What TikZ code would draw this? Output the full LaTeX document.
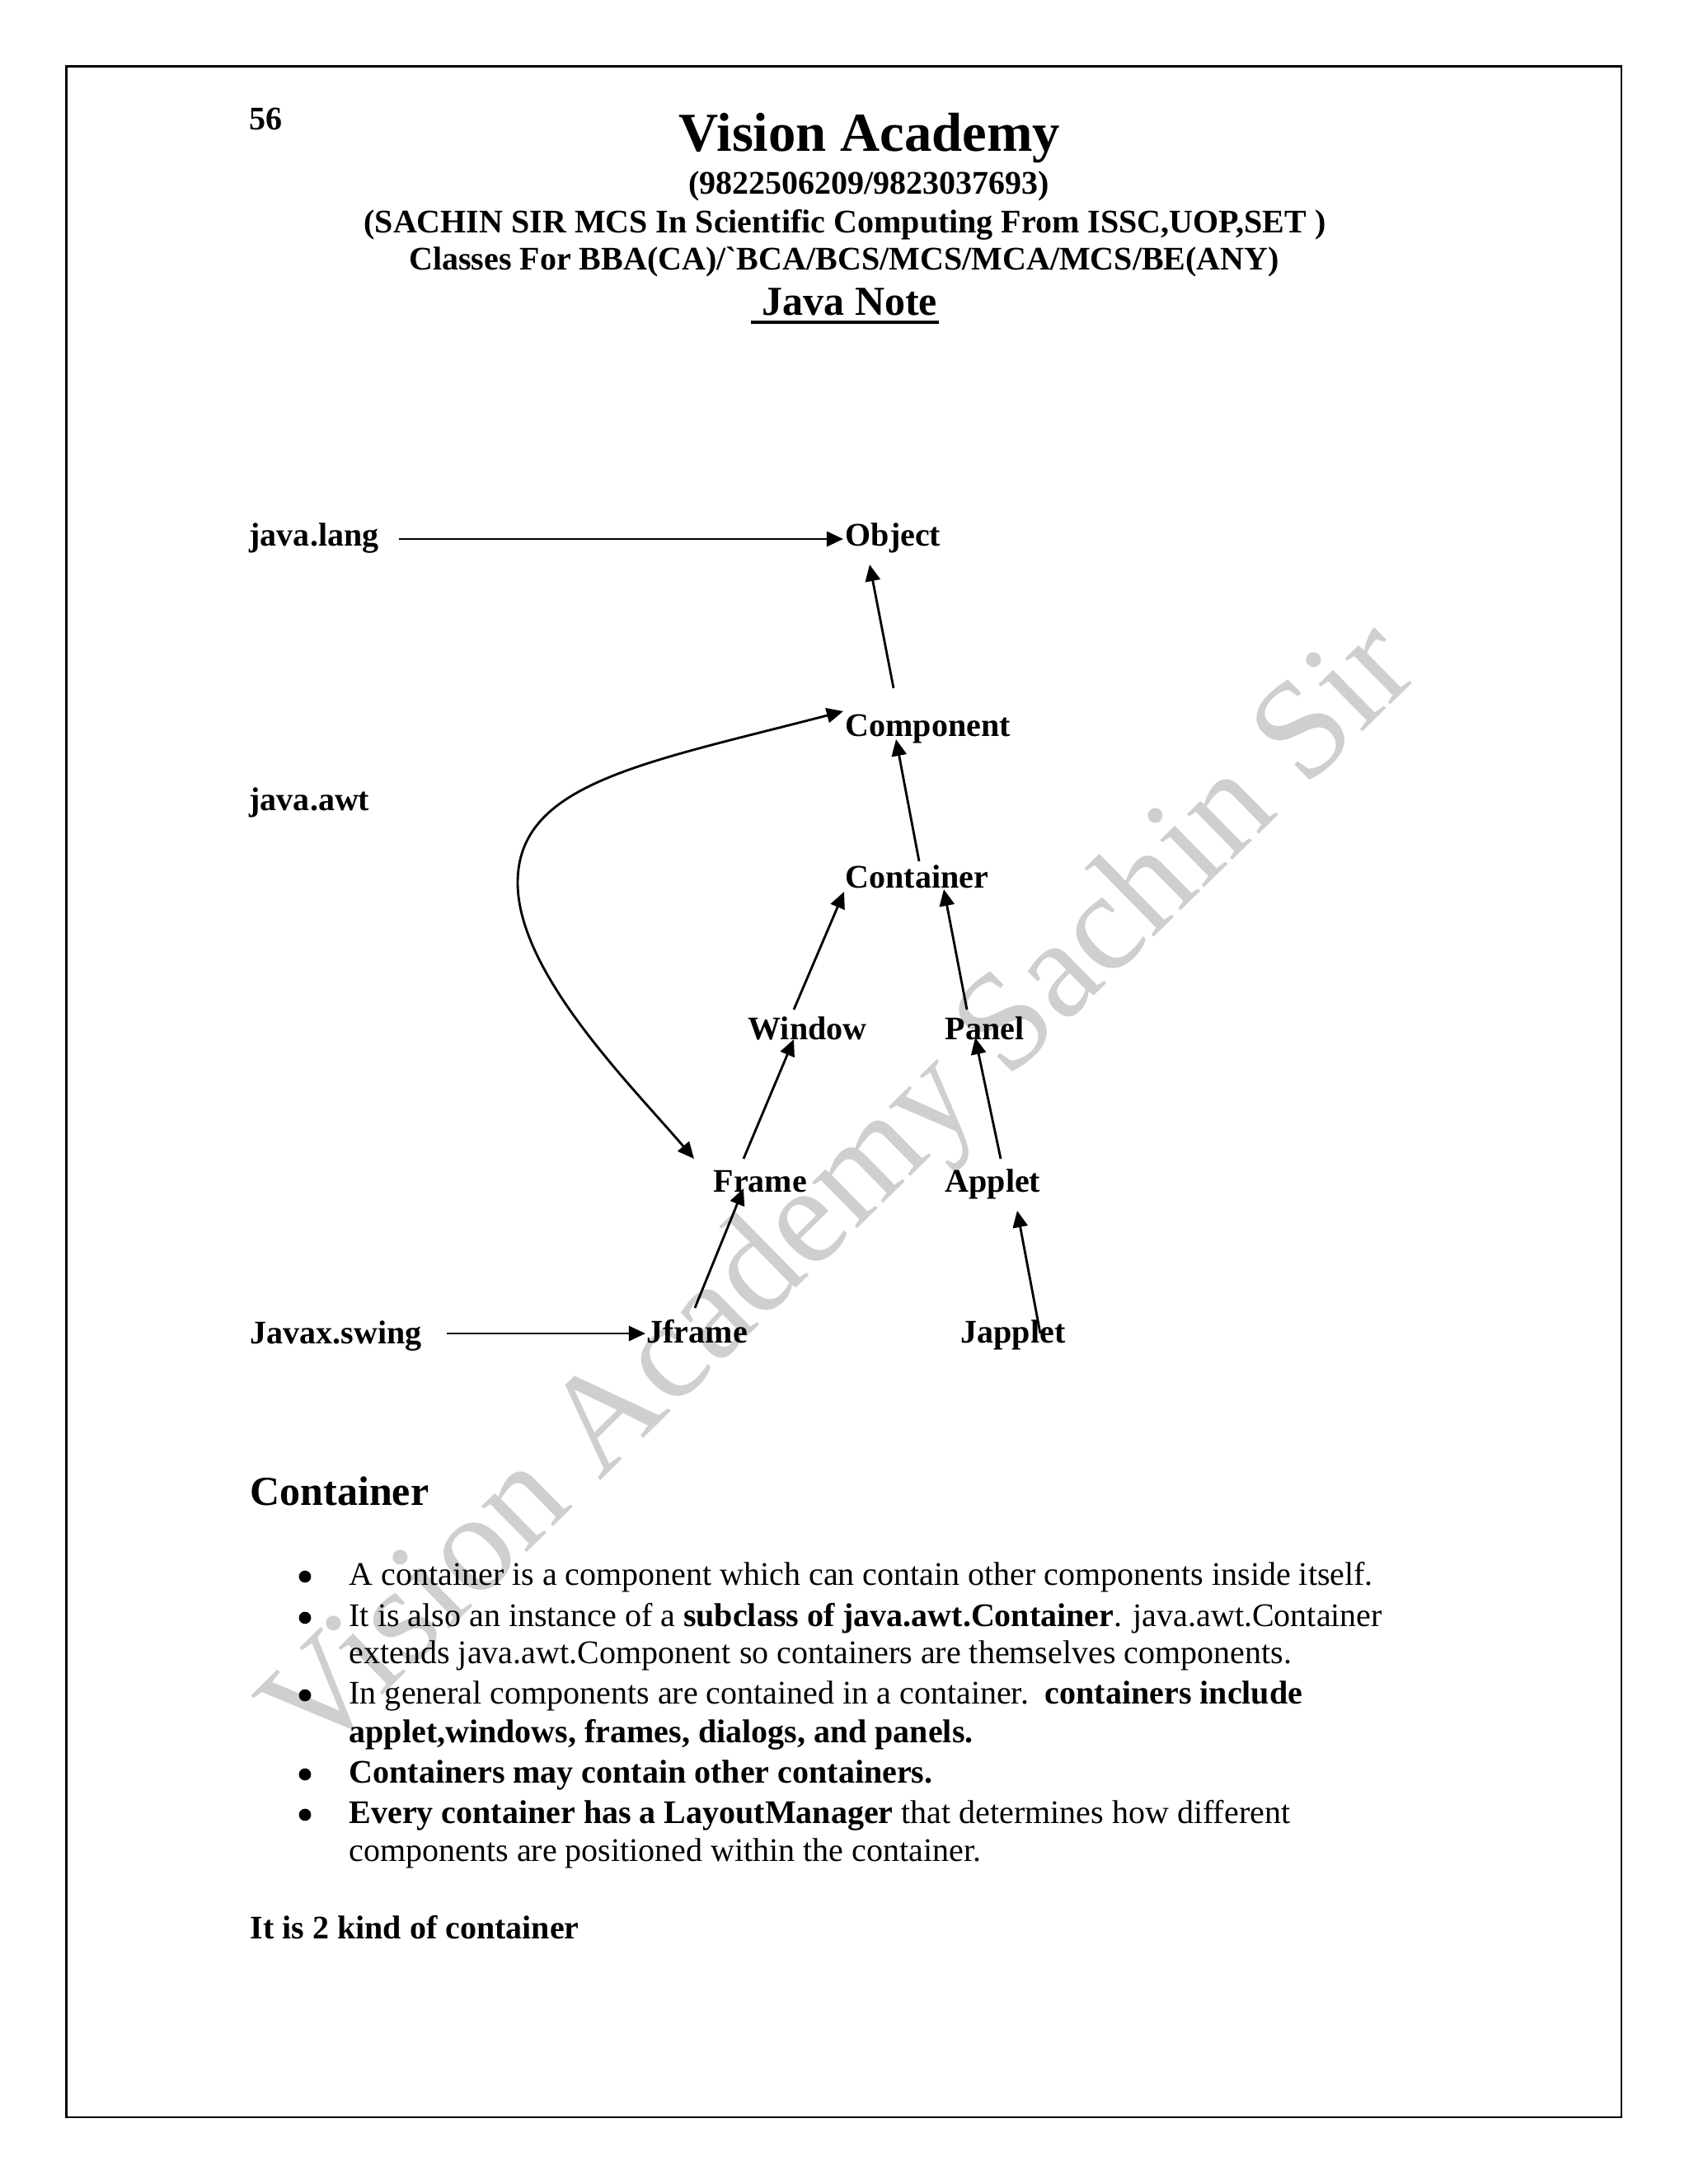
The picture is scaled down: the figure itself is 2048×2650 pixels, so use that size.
\documentclass[tikz,border=0pt]{standalone}
\usepackage{fontspec}
\setmainfont{Liberation Serif}[Ligatures=TeXOff]
\usetikzlibrary{arrows.meta,calc}
\begin{document}
\begin{tikzpicture}[x=0.29883bp,y=-0.29883bp,
  lbl/.style={inner sep=0pt, anchor=base west, font=\fontsize{12}{14}\selectfont\bfseries},
  body/.style={inner sep=0pt, anchor=base west, font=\fontsize{12}{14}\selectfont},
  hdr/.style={inner sep=0pt, anchor=base, font=\fontsize{12}{14}\selectfont\bfseries},
  bdot/.style={circle, fill=black, inner sep=0pt, minimum size=4.4bp},
  arr/.style={line width=0.85bp, -{Triangle[length=6bp,width=5.4bp]}},
  darr/.style={line width=0.85bp, {Triangle[length=6bp,width=5.4bp]}-{Triangle[length=6bp,width=5.4bp]}},
  wm/.style={inner sep=0pt, anchor=base, rotate=44.5, text=black!19, font=\fontsize{51}{56}\selectfont}]
\useasboundingbox (0,0) rectangle (2048,2650);
\fill[white] (0,0) rectangle (2048,2650);
% watermark
\node[wm] (wmark) at (1053,1478) {Vision Academy Sachin Sir};
% page frame
\draw[line width=0.75bp] (80.7,80.7) rectangle (1967,2569);
% header
\node[lbl] (pageno) at (302,157) {56};
\node[hdr, font=\fontsize{20}{24}\selectfont\bfseries] (title) at (1055,183) {Vision Academy};
\node[hdr] (phone) at (1054,235) {(9822506209/9823037693)};
\node[hdr] (sachin) at (1025,282) {(SACHIN SIR MCS In Scientific Computing From ISSC,UOP,SET )};
\node[hdr] (classes) at (1024,327) {Classes For BBA(CA)/`BCA/BCS/MCS/MCA/MCS/BE(ANY)};
\node[lbl, font=\fontsize{15}{18}\selectfont\bfseries] (javanote) at (924,382) {Java Note};
\draw[line width=1.2bp] ($(javanote.base west)+(-13,9)$) -- ($(javanote.base east)+(1,9)$);
% diagram nodes
\node[lbl] (javalang) at (302,662) {java.lang};
\node[lbl] (object) at (1025,662) {Object};
\node[lbl] (component) at (1025,893) {Component};
\node[lbl] (javaawt) at (302,983) {java.awt};
\node[lbl] (container) at (1025,1077) {Container};
\node[lbl] (window) at (907,1261) {Window};
\node[lbl] (panel) at (1146,1261) {Panel};
\node[lbl] (frame) at (865,1446) {Frame};
\node[lbl] (applet) at (1146,1446) {Applet};
\node[lbl] (javaxswing) at (303,1630) {Javax.swing};
\node[lbl] (jframe) at (784,1629) {Jframe};
\node[lbl] (japplet) at (1165,1629) {Japplet};
% connectors
\draw[arr] ($(javalang.base east)+(24,-8)$) -- ($(object.base west)+(-2,-8)$);
\draw[arr] ($(component.base west)+(59,-58)$) -- ($(object.base west)+(30,23)$);
\draw[arr] ($(container.base west)+(90,-32)$) -- ($(component.base west)+(62,4)$);
\draw[arr] ($(window.base west)+(56,-36)$) -- ($(container.base west)+(-1,5)$);
\draw[arr] ($(panel.base west)+(27,-36)$) -- ($(container.base west)+(120,2)$);
\draw[arr] ($(frame.base west)+(37,-40)$) -- ($(window.base west)+(56,0)$);
\draw[arr] ($(applet.base west)+(68,-40)$) -- ($(panel.base west)+(37,-2)$);
\draw[arr] ($(jframe.base west)+(59,-42)$) -- ($(frame.base west)+(37,-4)$);
\draw[arr] ($(japplet.base west)+(97,-11)$) -- ($(applet.base west)+(88,23)$);
\draw[arr] ($(javaxswing.base east)+(30,-12)$) -- ($(jframe.base west)+(-1,-11)$);
\draw[darr] ($(frame.base west)+(-23,-40)$) .. controls (764,1315) and (628,1180) .. (628,1071)
  .. controls (628,950) and (781,926) .. ($(component.base west)+(-2,-30)$);
% text section
\node[lbl, font=\fontsize{15}{18}\selectfont\bfseries] (heading) at (303,1826) {Container};
\node[bdot] (b1) at (370,1913) {};
\node[body] (l1) at (423,1923) {A container is a component which can contain other components inside itself.};
\node[bdot] (b2) at (370,1963) {};
\node[body] (l2) at (423,1973) {It is also an instance of a \textbf{subclass of java.awt.Container}. java.awt.Container};
\node[body] (l3) at (423,2018) {extends java.awt.Component so containers are themselves components.};
\node[bdot] (b3) at (370,2057) {};
\node[body] (l4) at (423,2067) {In general components are contained in a container.\ \ \textbf{containers include}};
\node[lbl] (l5) at (423,2114) {applet,windows, frames, dialogs, and panels.};
\node[bdot] (b4) at (370,2153) {};
\node[lbl] (l6) at (423,2163) {Containers may contain other containers.};
\node[bdot] (b5) at (370,2202) {};
\node[body] (l7) at (423,2212) {\textbf{Every container has a LayoutManager} that determines how different};
\node[body] (l8) at (423,2258) {components are positioned within the container.};
\node[lbl] (kinds) at (303,2352) {It is 2 kind of container};
\end{tikzpicture}
\end{document}
